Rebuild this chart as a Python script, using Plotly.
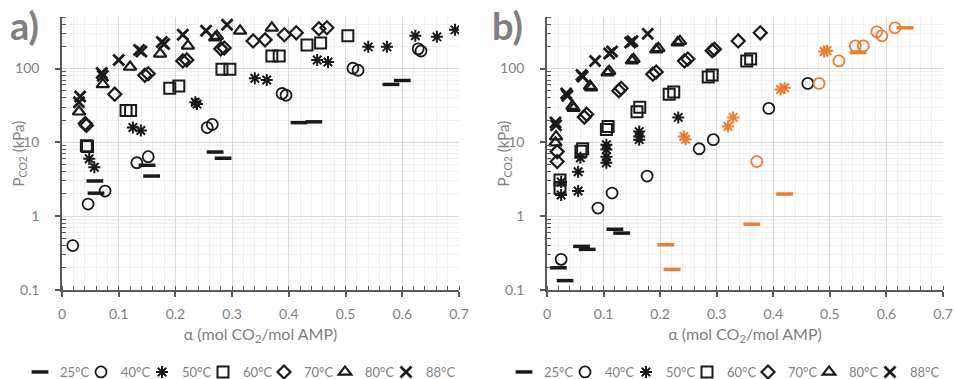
import math
import plotly.graph_objects as go

# ---------------- data: panel a) ----------------
a25_x = [0.058, 0.060, 0.150, 0.158, 0.270, 0.284, 0.418, 0.444, 0.580, 0.600]
a25_y = [3.0, 2.05, 4.9, 3.5, 7.4, 6.1, 18.5, 19.0, 61, 69]
a40_x = [0.019, 0.046, 0.076, 0.132, 0.152, 0.256, 0.265, 0.388, 0.395, 0.513, 0.522, 0.628, 0.633]
a40_y = [0.40, 1.46, 2.19, 5.3, 6.4, 15.9, 17.5, 46, 43.5, 101, 95, 185, 173]
a50_x = [0.048, 0.057, 0.125, 0.139, 0.235, 0.238, 0.340, 0.361, 0.450, 0.469, 0.540, 0.573, 0.623, 0.661, 0.693]
a50_y = [6.0, 4.6, 15.9, 14.5, 35, 33, 74, 70, 131, 123, 197, 197, 278, 269, 335]
a60_x = [0.043, 0.045, 0.113, 0.121, 0.190, 0.206, 0.282, 0.296, 0.370, 0.383, 0.432, 0.456, 0.504]
a60_y = [9.0, 8.8, 27, 27, 54, 58, 98, 98, 148, 148, 209, 223, 278]
a70_x = [0.041, 0.043, 0.093, 0.146, 0.152, 0.213, 0.220, 0.280, 0.286, 0.337, 0.358, 0.392, 0.413, 0.453, 0.467]
a70_y = [18, 17, 45, 81, 85, 127, 131, 185, 190, 237, 245, 287, 305, 346, 357]
a80_x = [0.030, 0.072, 0.120, 0.173, 0.222, 0.270, 0.273, 0.314, 0.370]
a80_y = [26, 61, 105, 158, 203, 262, 275, 325, 357]
a88_x = [0.030, 0.032, 0.070, 0.072, 0.100, 0.136, 0.140, 0.176, 0.180, 0.213, 0.254, 0.291]
a88_y = [35, 42, 87, 80, 131, 179, 170, 230, 215, 287, 325, 393]

# ---------------- data: panel b) ----------------
b25_x = [0.020, 0.032, 0.061, 0.071, 0.120, 0.132]
b25_y = [0.20, 0.134, 0.39, 0.355, 0.665, 0.59]
b40_x = [0.025, 0.090, 0.115, 0.177, 0.269, 0.294, 0.392, 0.461]
b40_y = [0.26, 1.29, 2.06, 3.5, 8.2, 10.9, 28.9, 63]
b50_x = [0.025, 0.025, 0.055, 0.055, 0.059, 0.105, 0.105, 0.105, 0.105, 0.163, 0.163, 0.163, 0.232]
b50_y = [1.94, 2.9, 4.0, 2.19, 6.2, 9.3, 8.0, 6.4, 5.3, 14, 12, 10.9, 21.8]
b60_x = [0.023, 0.023, 0.060, 0.063, 0.105, 0.108, 0.159, 0.164, 0.216, 0.224, 0.285, 0.292, 0.353, 0.360]
b60_y = [3.1, 2.4, 7.6, 8.2, 15, 16.4, 26, 30, 45, 48, 77, 82, 127, 135]
b70_x = [0.018, 0.018, 0.066, 0.070, 0.127, 0.131, 0.187, 0.193, 0.243, 0.249, 0.292, 0.296, 0.338, 0.377]
b70_y = [7.5, 5.5, 22, 24, 50, 54, 84, 90, 127, 135, 175, 183, 237, 305]
b80_x = [0.016, 0.015, 0.045, 0.047, 0.076, 0.078, 0.107, 0.110, 0.150, 0.153, 0.193, 0.197, 0.231, 0.235]
b80_y = [12, 9.9, 31, 29, 58, 55, 88, 92, 128, 134, 180, 188, 225, 235]
b88_x = [0.015, 0.016, 0.034, 0.036, 0.061, 0.063, 0.085, 0.110, 0.115, 0.147, 0.151, 0.178]
b88_y = [18.6, 17, 46, 43, 82, 78, 127, 160, 170, 225, 235, 296]
# orange series (second data set in panel b)
o25_x = [0.210, 0.221, 0.362, 0.420, 0.550, 0.633]
o25_y = [0.41, 0.19, 0.78, 2.0, 165, 357]
o40_x = [0.371, 0.481, 0.516, 0.545, 0.559, 0.583, 0.592, 0.615]
o40_y = [5.5, 63, 127, 203, 203, 315, 278, 357]
o50_x = [0.242, 0.245, 0.320, 0.329, 0.413, 0.420, 0.490, 0.495]
o50_y = [12, 11, 16.4, 21.8, 52, 55, 170, 175]

labels = ["25°C", "40°C", "50°C", "60°C", "70°C", "80°C", "88°C"]

BLACK = "#1a1a1a"
ORANGE = "#ED7D31"

styles = {
    "25°C": dict(symbol="line-ew-open", size=12, lw=3.5),
    "40°C": dict(symbol="circle-open", size=11, lw=1.8),
    "50°C": dict(symbol="asterisk-open", size=10, lw=2),
    "60°C": dict(symbol="square-open", size=11, lw=2),
    "70°C": dict(symbol="diamond-open", size=10, lw=2.2),
    "80°C": dict(symbol="triangle-up-open", size=11, lw=2.2),
    "88°C": dict(symbol="x-thin-open", size=11, lw=2.8),
}

fig = go.Figure()

def add(xs, ys, lab, color, xa, ya, legend, show):
    st = styles[lab]
    fig.add_trace(go.Scatter(
        x=xs, y=ys, mode="markers", name=lab, xaxis=xa, yaxis=ya,
        legend=legend, showlegend=show,
        marker=dict(symbol=st["symbol"], size=st["size"], color=color,
                    line=dict(color=color, width=st["lw"])),
    ))

def legend_id(n):
    return "legend" if n == 1 else "legend%d" % n

a_sets = [(a25_x, a25_y), (a40_x, a40_y), (a50_x, a50_y), (a60_x, a60_y),
          (a70_x, a70_y), (a80_x, a80_y), (a88_x, a88_y)]
b_sets = [(b25_x, b25_y), (b40_x, b40_y), (b50_x, b50_y), (b60_x, b60_y),
          (b70_x, b70_y), (b80_x, b80_y), (b88_x, b88_y)]

for i, (lab, (xs, ys)) in enumerate(zip(labels, a_sets)):
    add(xs, ys, lab, BLACK, "x", "y", legend_id(i + 1), True)
for i, (lab, (xs, ys)) in enumerate(zip(labels, b_sets)):
    add(xs, ys, lab, BLACK, "x2", "y2", legend_id(i + 8), True)
for lab, (xs, ys) in zip(labels[:3], [(o25_x, o25_y), (o40_x, o40_y), (o50_x, o50_y)]):
    add(xs, ys, lab, ORANGE, "x2", "y2", legend_id(8), False)

GRAY_TXT = "#7f7f7f"
AX = "#595959"
FONT = "Lato"

minor_y = []
for d in [0.1, 1, 10, 100]:
    for k in range(2, 10):
        v = d * k
        if v <= 500:
            minor_y.append(v)

H = 379.0
W = 954.0
ydom = [1 - 290 / H, 1 - 17 / H]

def xax(domain, anchor):
    return dict(
        domain=domain, anchor=anchor, range=[0, 0.7], tick0=0, dtick=0.1,
        showline=True, linecolor=AX, linewidth=1.5, mirror=False,
        ticks="outside", ticklen=5, tickwidth=1.5, tickcolor=AX,
        showgrid=True, gridcolor="#D9D9D9", gridwidth=1.3, zeroline=False,
        tickfont=dict(family=FONT, size=14, color=GRAY_TXT),
        ticklabelstandoff=5,
        minor=dict(tick0=0, dtick=0.02, ticks="inside", ticklen=4, tickwidth=1.2,
                   tickcolor=AX, showgrid=True, gridcolor="#EFEFEF", gridwidth=1),
        title=dict(text="α (mol CO<sub>2</sub>/mol AMP)",
                   font=dict(family=FONT, size=16, color=GRAY_TXT), standoff=8),
    )

def yax(anchor):
    return dict(
        domain=ydom, anchor=anchor, type="log", range=[-1, math.log10(500)],
        tickmode="array", tickvals=[0.1, 1, 10, 100], ticktext=["0.1", "1", "10", "100"],
        showline=True, linecolor=AX, linewidth=1.5,
        ticks="outside", ticklen=5, tickwidth=1.5, tickcolor=AX,
        showgrid=True, gridcolor="#D9D9D9", gridwidth=1.3, zeroline=False,
        tickfont=dict(family=FONT, size=14, color=GRAY_TXT),
        ticklabelstandoff=13,
        minor=dict(tickmode="array", tickvals=minor_y, ticks="inside", ticklen=4,
                   tickwidth=1.2, tickcolor=AX, showgrid=True,
                   gridcolor="#EFEFEF", gridwidth=1),
    )

# legend symbol centres (px): evenly spaced row centred under each panel
LEG_STEP = 61
legend_a_px = [39 + LEG_STEP * k for k in range(7)]
legend_b_px = [p + 484 for p in legend_a_px]
LEG_Y = 1 - 372 / H

legends = {}
for i, px in enumerate(legend_a_px + legend_b_px):
    legends[legend_id(i + 1)] = dict(
        orientation="h", yref="container", y=LEG_Y, yanchor="middle",
        xref="container", x=(px - 19) / W, xanchor="left",
        font=dict(family=FONT, size=13, color=GRAY_TXT),
        bgcolor="rgba(0,0,0,0)", itemwidth=30,
    )

annotations = []
y_mid = 1 - (17 + 290) / 2 / H
for xpx in [18, 503]:
    annotations.append(dict(
        text="P<sub>CO2</sub> (kPa)", textangle=-90, x=xpx / W, y=y_mid,
        xref="paper", yref="paper", xanchor="center", yanchor="middle",
        showarrow=False, font=dict(family=FONT, size=15, color=GRAY_TXT)))

for txt, xpx in [("<b>a)</b>", 8), ("<b>b)</b>", 490)]:
    annotations.append(dict(
        text=txt, x=xpx / W, y=1 - 25 / H, xref="paper", yref="paper",
        xanchor="left", yanchor="middle", showarrow=False,
        font=dict(family=FONT, size=38, color="#808080")))

fig.update_layout(
    width=954, height=379,
    margin=dict(l=0, r=0, t=0, b=0, autoexpand=False),
    paper_bgcolor="white", plot_bgcolor="white",
    font=dict(family=FONT, color=GRAY_TXT),
    xaxis=xax([62 / W, 459 / W], "y"),
    yaxis=yax("x"),
    xaxis2=xax([547 / W, 943 / W], "y2"),
    yaxis2=yax("x2"),
    annotations=annotations,
    **legends,
)

fig.write_html("out.html")
